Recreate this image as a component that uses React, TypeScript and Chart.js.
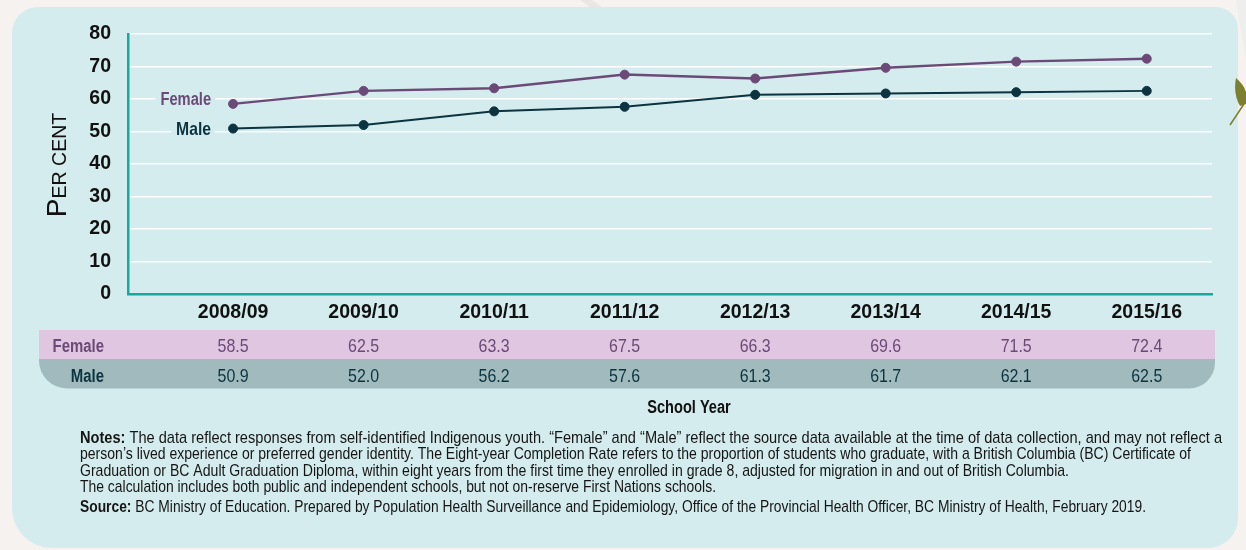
import { useEffect, useRef } from 'react';
import { Chart, registerables } from 'chart.js';

Chart.register(...registerables);

// ---------- data ----------
const categories = ['2008/09', '2009/10', '2010/11', '2011/12', '2012/13', '2013/14', '2014/15', '2015/16'];
const femaleValues = [58.5, 62.5, 63.3, 67.5, 66.3, 69.6, 71.5, 72.4];
const maleValues = [50.9, 52.0, 56.2, 57.6, 61.3, 61.7, 62.1, 62.5];
const seriesNames = ['Female', 'Male'];
const yAxisMin = 0;
const yAxisMax = 80;
const yAxisStep = 10;
const yTitleFirst = 'P';
const yTitleRest = 'ER CENT';
const xAxisTitle = 'School Year';
const notesLabel = 'Notes:';
const notesLines = [
  ' The data reflect responses from self-identified Indigenous youth. \u201cFemale\u201d and \u201cMale\u201d reflect the source data available at the time of data collection, and may not reflect a',
  'person\u2019s lived experience or preferred gender identity. The Eight-year Completion Rate refers to the proportion of students who graduate, with a British Columbia (BC) Certificate of',
  'Graduation or BC Adult Graduation Diploma, within eight years from the first time they enrolled in grade 8, adjusted for migration in and out of British Columbia.',
  'The calculation includes both public and independent schools, but not on-reserve First Nations schools.',
];
const sourceLabel = 'Source:';
const sourceText = ' BC Ministry of Education. Prepared by Population Health Surveillance and Epidemiology, Office of the Provincial Health Officer, BC Ministry of Health, February 2019.';

// ---------- styles ----------
const SANS = '"Liberation Sans", Arial, sans-serif';
const PAGE_BG = '#f6f2ef';
const PANEL_BG = '#d4ecee';
const PURPLE = '#6b4a78';
const DARK = '#0c3440';
const TEAL = '#17a89f';

function drawCondensed(ctx: any, text: string, x: number, y: number, align: string, font: string, sx: number, color: string) {
  ctx.save();
  ctx.font = font;
  ctx.fillStyle = color;
  ctx.textBaseline = 'alphabetic';
  ctx.textAlign = 'left';
  const w = ctx.measureText(text).width * sx;
  let left = x;
  if (align === 'right') left = x - w;
  else if (align === 'center') left = x - w / 2;
  ctx.translate(left, y);
  ctx.scale(sx, 1);
  ctx.fillText(text, 0, 0);
  ctx.restore();
  return w;
}

const decorPlugin = {
  id: 'decor',
  beforeDraw(chart: any) {
    const ctx = chart.ctx;
    ctx.save();
    ctx.fillStyle = PAGE_BG;
    ctx.fillRect(0, 0, chart.width, chart.height);
    ctx.fillStyle = '#e9e6e4';
    ctx.beginPath();
    ctx.moveTo(580, 0);
    ctx.lineTo(592, 0);
    ctx.lineTo(606, 10);
    ctx.lineTo(594, 10);
    ctx.closePath();
    ctx.fill();
    ctx.fillStyle = '#eeeeee';
    ctx.beginPath();
    ctx.moveTo(1236, 0);
    ctx.lineTo(1246, 0);
    ctx.lineTo(1246, 60);
    ctx.closePath();
    ctx.fill();
    // panel
    ctx.fillStyle = PANEL_BG;
    ctx.beginPath();
    ctx.roundRect(12, 7, 1226, 541, [26, 22, 30, 40]);
    ctx.fill();
    // leaf
    ctx.fillStyle = '#7b7f2e';
    ctx.beginPath();
    ctx.moveTo(1236, 78);
    ctx.quadraticCurveTo(1250, 90, 1246, 104);
    ctx.lineTo(1240, 106);
    ctx.quadraticCurveTo(1233, 94, 1236, 78);
    ctx.closePath();
    ctx.fill();
    ctx.strokeStyle = '#7b7f2e';
    ctx.lineWidth = 1.5;
    ctx.beginPath();
    ctx.moveTo(1244, 104);
    ctx.lineTo(1230, 125);
    ctx.stroke();
    ctx.restore();
  },
  afterDraw(chart: any) {
    const ctx = chart.ctx;
    const xs = chart.scales.x;
    const ys = chart.scales.y;
    ctx.save();

    // series labels beside first points
    const lx = xs.getPixelForValue(0) - 22;
    const labels = [
      { text: seriesNames[0], color: PURPLE, y: ys.getPixelForValue(femaleValues[0]) - 5, font: `bold 17.5px ${SANS}`, sx: 0.84 },
      { text: seriesNames[1], color: DARK, y: ys.getPixelForValue(maleValues[0]), font: `bold 18.5px ${SANS}`, sx: 0.85 },
    ];
    labels.forEach((l) => {
      ctx.font = l.font;
      const w = ctx.measureText(l.text).width * l.sx;
      ctx.fillStyle = PANEL_BG;
      ctx.fillRect(lx - w - 5, l.y - 9, w + 9, 18);
      drawCondensed(ctx, l.text, lx, l.y + 6.5, 'right', l.font, l.sx, l.color);
    });

    // y axis title (small caps)
    ctx.save();
    ctx.fillStyle = '#111111';
    ctx.translate(66, 165);
    ctx.rotate(-Math.PI / 2);
    ctx.font = `28px ${SANS}`;
    const wP = ctx.measureText(yTitleFirst).width;
    ctx.font = `19.5px ${SANS}`;
    const wR = ctx.measureText(yTitleRest).width;
    const start = -(wP + wR) / 2;
    ctx.textAlign = 'left';
    ctx.textBaseline = 'alphabetic';
    ctx.font = `28px ${SANS}`;
    ctx.fillText(yTitleFirst, start, 0);
    ctx.font = `19.5px ${SANS}`;
    ctx.fillText(yTitleRest, start + wP, 0);
    ctx.restore();

    // table
    ctx.fillStyle = '#e0c6e0';
    ctx.fillRect(39, 330, 1176, 29.5);
    ctx.fillStyle = '#a0babd';
    ctx.beginPath();
    ctx.roundRect(39, 359, 1176, 29.5, [0, 0, 26, 28]);
    ctx.fill();

    const rows = [
      { name: seriesNames[0], vals: femaleValues, color: PURPLE, base: 352 },
      { name: seriesNames[1], vals: maleValues, color: DARK, base: 381.5 },
    ];
    rows.forEach((r) => {
      drawCondensed(ctx, r.name, 104, r.base, 'right', `bold 18px ${SANS}`, 0.83, r.color);
      r.vals.forEach((v, i) => {
        drawCondensed(ctx, v.toFixed(1), xs.getPixelForValue(i), r.base, 'center', `19px ${SANS}`, 0.84, r.color);
      });
    });

    // x axis title
    drawCondensed(ctx, xAxisTitle, 689, 413, 'center', `bold 18px ${SANS}`, 0.81, '#111111');

    // notes
    const drawLine = (bold: string, text: string, y: number, endX: number) => {
      ctx.font = `bold 17px ${SANS}`;
      const wb = bold ? ctx.measureText(bold).width : 0;
      ctx.font = `17px ${SANS}`;
      const wt = ctx.measureText(text).width;
      const sx = (endX - 80) / (wb + wt);
      ctx.save();
      ctx.translate(80, y);
      ctx.scale(sx, 1);
      ctx.textAlign = 'left';
      ctx.textBaseline = 'alphabetic';
      ctx.fillStyle = '#151515';
      if (bold) {
        ctx.font = `bold 17px ${SANS}`;
        ctx.fillText(bold, 0, 0);
      }
      ctx.font = `17px ${SANS}`;
      ctx.fillText(text, wb, 0);
      ctx.restore();
    };
    const ends = [1222, 1191, 1069, 716];
    notesLines.forEach((t, i) => drawLine(i === 0 ? notesLabel : '', t, 443 + i * 16.3, ends[i]));
    drawLine(sourceLabel, sourceText, 512, 1146);

    ctx.restore();
  },
};

export default function App() {
  const ref = useRef<HTMLCanvasElement | null>(null);
  useEffect(() => {
    if (!ref.current) return;
    const chart = new Chart(ref.current, {
      type: 'line',
      data: {
        datasets: [
          {
            label: seriesNames[0],
            data: femaleValues.map((v, i) => ({ x: i, y: v })),
            borderColor: PURPLE,
            backgroundColor: PURPLE,
            borderWidth: 2.5,
            pointRadius: 4.5,
            pointBorderWidth: 1,
            pointBackgroundColor: PURPLE,
            pointBorderColor: PURPLE,
            tension: 0,
          },
          {
            label: seriesNames[1],
            data: maleValues.map((v, i) => ({ x: i, y: v })),
            borderColor: DARK,
            backgroundColor: DARK,
            borderWidth: 2,
            pointRadius: 4.5,
            pointBorderWidth: 1,
            pointBackgroundColor: DARK,
            pointBorderColor: DARK,
            tension: 0,
          },
        ],
      },
      options: {
        animation: false,
        responsive: false,
        devicePixelRatio: 1,
        layout: { padding: { left: 0, top: 34, right: 34, bottom: 216 } },
        plugins: { legend: { display: false }, tooltip: { enabled: false } },
        scales: {
          x: {
            type: 'linear',
            min: -0.805,
            max: 7.5,
            afterFit: (s: any) => { s.height = 40; },
            grid: { display: false, drawTicks: false },
            border: { display: true, color: TEAL, width: 2.5 },
            ticks: {
              stepSize: 1,
              includeBounds: false,
              autoSkip: false,
              maxRotation: 0,
              padding: 7,
              color: '#111111',
              font: { family: SANS, size: 19.5, weight: 'bold' },
              callback: (v: any) => (Number.isInteger(v) && categories[v] ? categories[v] : ''),
            },
          },
          y: {
            min: yAxisMin,
            max: yAxisMax,
            afterFit: (s: any) => { s.width = 128; },
            grid: { color: 'rgba(255,255,255,0.95)', lineWidth: 1.5, drawTicks: false },
            border: { display: true, color: TEAL, width: 2.5 },
            ticks: {
              stepSize: yAxisStep,
              padding: 17,
              color: '#111111',
              font: { family: SANS, size: 19.5, weight: 'bold' },
            },
          },
        },
      },
      plugins: [decorPlugin],
    } as any);
    return () => chart.destroy();
  }, []);
  return (
    <div style={{ position: 'fixed', left: 0, top: 0, width: 1246, height: 550 }}>
      <canvas ref={ref} width={1246} height={550} style={{ width: 1246, height: 550, display: 'block' }} />
    </div>
  );
}
